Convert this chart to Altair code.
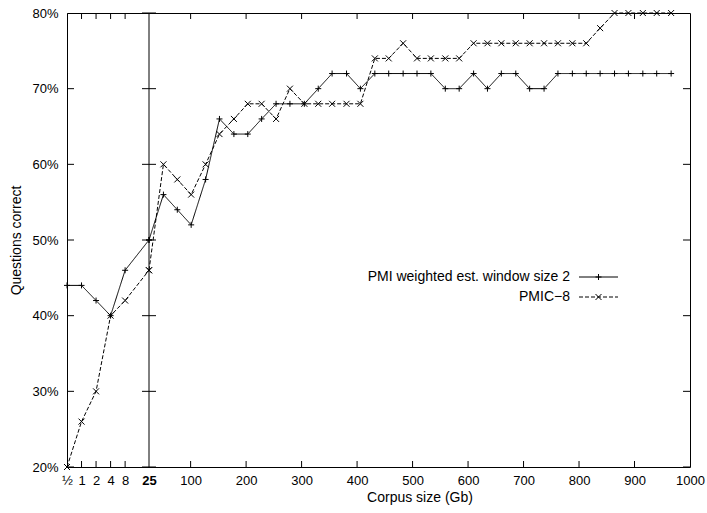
import altair as alt
import pandas as pd

# ---------------- data ----------------
series_names = ["PMI weighted est. window size 2", "PMIC\u22128"]

left_gb = [0.5, 1, 2, 4, 8, 25]
left_pmi = [44, 44, 42, 40, 46, 50]
left_pmic = [20, 26, 30, 40, 42, 46]

right_gb = [25, 51, 76, 101, 127, 152, 178, 203, 228, 254, 279, 305, 330, 355,
            381, 406, 432, 457, 483, 508, 533, 559, 584, 610, 635, 660, 686, 711,
            737, 762, 788, 813, 838, 864, 889, 915, 940, 966]
right_pmi = [50, 56, 54, 52, 58, 66, 64, 64, 66, 68, 68, 68, 70, 72,
             72, 70, 72, 72, 72, 72, 72, 70, 70, 72, 70, 72, 72, 70,
             70, 72, 72, 72, 72, 72, 72, 72, 72, 72]
right_pmic = [46, 60, 58, 56, 60, 64, 66, 68, 68, 66, 70, 68, 68, 68,
              68, 68, 74, 74, 76, 74, 74, 74, 74, 76, 76, 76, 76, 76,
              76, 76, 76, 76, 78, 80, 80, 80, 80, 80]

left_label_values = [0.5, 1, 2, 4, 8, 25]
left_tick_values = [1, 2, 4, 8]
right_label_values = [100, 200, 300, 400, 500, 600, 700, 800, 900, 1000]
right_tick_values = [100, 200, 300, 400, 500, 600, 700, 800, 900]
y_values = [20, 30, 40, 50, 60, 70, 80]
split_value = [25]
right_edge = [1000]
left_edge = [0.5]

# ---------------- tables ----------------
def long(xs, a, b):
    rows = []
    for x, v in zip(xs, a):
        rows.append({"gb": x, "pct": v, "series": series_names[0]})
    for x, v in zip(xs, b):
        rows.append({"gb": x, "pct": v, "series": series_names[1]})
    return pd.DataFrame(rows)

df_left = long(left_gb, left_pmi, left_pmic)
df_right = long(right_gb, right_pmi, right_pmic)

PLUS = "M-1,0L1,0M0,-1L0,1"
CROSS = "M-1,-1L1,1M-1,1L1,-1"

W, H = 623, 454
SPLIT = 82

xs_left = alt.Scale(type="log", base=2, domain=[0.5, 25], range=[0, SPLIT], nice=False)
xs_right = alt.Scale(type="linear", domain=[25, 1000], range=[SPLIT, W], nice=False, zero=False)
ys = alt.Scale(domain=[20, 80], nice=False, zero=False)

dash_scale = alt.Scale(domain=series_names, range=[[1, 0], [4, 2]])
shape_scale = alt.Scale(domain=series_names, range=[PLUS, CROSS])

y_axis = alt.Axis(values=y_values, labelExpr="datum.value + '%'", ticks=False, domain=False,
                  grid=False, labelPadding=9, title="Questions correct", titlePadding=8,
                  orient="left")

left_axis = alt.Axis(values=left_label_values, orient="bottom", ticks=False, domain=False, grid=False,
                     labelExpr="datum.value < 1 ? '\u00bd' : '' + datum.value",
                     labelFlush=False, labelOverlap=False, labelPadding=7, title=None,
                     labelFontWeight={"condition": {"test": "datum.value == 25", "value": "bold"},
                                      "value": "normal"})
right_axis = alt.Axis(values=right_label_values, orient="bottom", ticks=False, domain=False, grid=False,
                      format="d", labelFlush=False, labelOverlap=False, labelPadding=7,
                      title="Corpus size (Gb)", titlePadding=3)


def tick_layer(df, xcol, ycol, xscale, xaxis, orient, size, clip):
    return alt.Chart(df).mark_tick(orient=orient, size=size, thickness=1, color="black",
                                   clip=clip, opacity=1).encode(
        x=alt.X(f"{xcol}:Q", scale=xscale, axis=xaxis),
        y=alt.Y(f"{ycol}:Q", scale=ys, axis=y_axis))


# ---------------- left panel (log2 part) ----------------
l_lines = alt.Chart(df_left).mark_line(color="black", strokeWidth=1).encode(
    x=alt.X("gb:Q", scale=xs_left, axis=left_axis),
    y=alt.Y("pct:Q", scale=ys, axis=y_axis),
    detail="series:N",
    strokeDash=alt.StrokeDash("series:N", scale=dash_scale, legend=None),
)
l_points = alt.Chart(df_left).mark_point(filled=False, color="black", size=36, strokeWidth=1, opacity=1).encode(
    x=alt.X("gb:Q", scale=xs_left, axis=left_axis),
    y=alt.Y("pct:Q", scale=ys, axis=y_axis),
    shape=alt.Shape("series:N", scale=shape_scale, legend=None),
)
df_lx = pd.DataFrame({"x": left_tick_values * 2,
                      "y": [y_values[0]] * len(left_tick_values) + [y_values[-1]] * len(left_tick_values)})
l_tick_x = tick_layer(df_lx, "x", "y", xs_left, left_axis, "vertical", 12, True)
df_ly = pd.DataFrame({"y": y_values, "x": left_edge * len(y_values)})
l_tick_y = tick_layer(df_ly, "x", "y", xs_left, left_axis, "horizontal", 14, True)

left_group = alt.layer(l_lines, l_points, l_tick_x, l_tick_y)

# ---------------- right panel (linear part) ----------------
r_lines = alt.Chart(df_right).mark_line(color="black", strokeWidth=1).encode(
    x=alt.X("gb:Q", scale=xs_right, axis=right_axis),
    y=alt.Y("pct:Q", scale=ys, axis=y_axis),
    detail="series:N",
    strokeDash=alt.StrokeDash("series:N", scale=dash_scale, legend=None),
)
r_points = alt.Chart(df_right).mark_point(filled=False, color="black", size=36, strokeWidth=1, opacity=1).encode(
    x=alt.X("gb:Q", scale=xs_right, axis=right_axis),
    y=alt.Y("pct:Q", scale=ys, axis=y_axis),
    shape=alt.Shape("series:N", scale=shape_scale, legend=None),
)
df_rx = pd.DataFrame({"x": right_tick_values * 2,
                      "y": [y_values[0]] * len(right_tick_values) + [y_values[-1]] * len(right_tick_values)})
r_tick_x = tick_layer(df_rx, "x", "y", xs_right, right_axis, "vertical", 12, True)
df_ry = pd.DataFrame({"y": y_values, "x": right_edge * len(y_values)})
r_tick_y = tick_layer(df_ry, "x", "y", xs_right, right_axis, "horizontal", 14, True)
df_sy = pd.DataFrame({"y": y_values, "x": split_value * len(y_values)})
r_split_ticks = tick_layer(df_sy, "x", "y", xs_right, right_axis, "horizontal", 14, False)
df_split = pd.DataFrame({"x": split_value * 2, "y": [y_values[0], y_values[-1]]})
r_split = alt.Chart(df_split).mark_line(color="black", strokeWidth=1).encode(
    x=alt.X("x:Q", scale=xs_right, axis=right_axis),
    y=alt.Y("y:Q", scale=ys, axis=y_axis))

# ---------------- legend (drawn by hand, like gnuplot's key) ----------------
leg_rows = [264, 284]
legend_layers = []
for i, name in enumerate(series_names):
    d = pd.DataFrame({"label": [name]})
    legend_layers.append(alt.Chart(d).mark_text(align="right", baseline="middle", fontSize=14,
                                                color="black", font="Liberation Sans").encode(
        x=alt.value(503), y=alt.value(leg_rows[i]), text="label:N"))
    legend_layers.append(alt.Chart(d).mark_rule(color="black", strokeWidth=1,
                                                strokeDash=[1, 0] if i == 0 else [4, 2]).encode(
        x=alt.value(512), x2=alt.value(551), y=alt.value(leg_rows[i])))
    legend_layers.append(alt.Chart(d).mark_point(filled=False, color="black", size=36, strokeWidth=1,
                                                 opacity=1, shape=PLUS if i == 0 else CROSS).encode(
        x=alt.value(531.5), y=alt.value(leg_rows[i])))

right_group = alt.layer(r_lines, r_points, r_tick_x, r_tick_y, r_split, r_split_ticks, *legend_layers)

chart = alt.layer(left_group, right_group).resolve_scale(x="independent").properties(
    width=W, height=H,
    autosize=alt.AutoSizeParams(type="none"),
    padding={"left": 67, "top": 13, "right": 17, "bottom": 46},
    background="white",
).configure_view(stroke="black", strokeWidth=1).configure_axis(
    labelFont="Liberation Sans", titleFont="Liberation Sans",
    labelFontSize=13, titleFontSize=14, titleFontWeight="normal",
    labelColor="black", titleColor="black",
)

chart.save("out.html", embed_options={"renderer": "svg", "actions": False})
